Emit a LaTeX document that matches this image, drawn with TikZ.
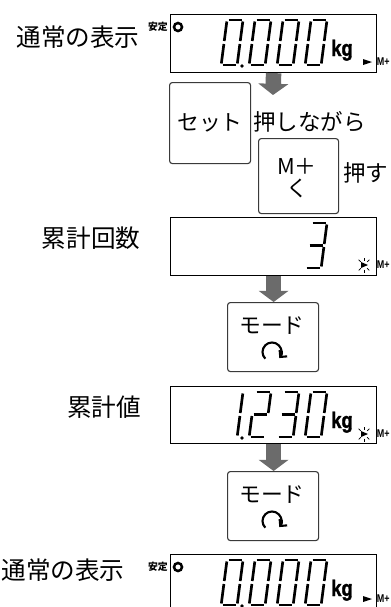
\documentclass[tikz,border=0pt]{standalone}
\usepackage{fontspec}
\newfontfamily\jpfont{Noto Sans CJK JP}
\newfontfamily\lcdfont[FakeStretch=0.8]{Liberation Sans}
\newfontfamily\unitfont[FakeStretch=0.82, FakeBold=1.4]{Liberation Sans Bold}
\usetikzlibrary{calc,arrows.meta}

\definecolor{arrowgray}{HTML}{6B6B6B}
\definecolor{keyedge}{HTML}{3A3A3A}

% 7セグ数字: #1,#2 = 左上, #3 = 点灯するセグメント
\newcommand{\segdigit}[3]{%
  \begin{scope}[shift={(#1,#2)}, xslant=0.13]
    \foreach \s in {#3} {
      \if a\s \draw[seg] (1.5,0) -- (14.5,0); \fi
      \if b\s \draw[seg] (16,1.5) -- (16,21); \fi
      \if c\s \draw[seg] (16,24) -- (16,43.5); \fi
      \if d\s \draw[seg] (1.5,45) -- (14.5,45); \fi
      \if e\s \draw[seg] (0,24) -- (0,43.5); \fi
      \if f\s \draw[seg] (0,1.5) -- (0,21); \fi
      \if g\s \draw[seg] (1.5,22.5) -- (14.5,22.5); \fi
    }
  \end{scope}}

\begin{document}
\begin{tikzpicture}[
    x=0.025cm, y=-0.025cm, % 1 = 1px, 下向き
    lcd/.style={draw, line width=0.8pt, minimum width=5.15cm, minimum height=1.45cm, anchor=north west, inner sep=0pt},
    key/.style={draw=keyedge, line width=0.8pt, rounded corners=2pt, anchor=north west, inner sep=0pt},
    keytext/.style={font=\jpfont\fontsize{15.5}{15.6}\selectfont, inner sep=0pt},
    flow/.style={draw=arrowgray, line width=11pt, -{Triangle[width=21pt,length=8pt]}},
    seg/.style={line width=1.9pt},
    lbl/.style={font=\jpfont\fontsize{17.5}{18}\selectfont, inner sep=0pt},
    txt/.style={font=\jpfont\fontsize{16}{17}\selectfont, inner sep=0pt},
    unit/.style={font=\unitfont\fontsize{16}{16}\selectfont, inner sep=0pt, anchor=base},
    tiny/.style={font=\lcdfont\bfseries\fontsize{8}{8}\selectfont, inner sep=0pt},
    reload/.style={line width=1.5pt, -{Straight Barb[length=3.5pt,width=7pt]}}
]
\useasboundingbox (0,0) rectangle (390,607);
\clip (0,0) rectangle (390,607);

% ========== 表示部 ==========
\node[lcd] (d1) at (170,14) {};
\node[lcd] (d2) at (170,217) {};
\node[lcd, minimum height=1.425cm] (d3) at (170,386) {};
\node[lcd] (d4) at (170,554) {};

\node[lbl] (l1) at (78,37) {通常の表示};
\node[lbl] (l2) at (91,238) {累計回数};
\node[lbl] (l3) at (104,407) {累計値};
\node[lbl] (l4) at (63,570) {通常の表示};

% 0.000 kg (上と下)
\foreach \t/\m in {14/48,554/45} {
    \foreach \k in {0,...,3} {
        \segdigit{227+28*\k}{\t+6}{a,b,c,d,e,f}
    }
    \fill (242,\t+52) circle[radius=1.9];
    \node[unit] (kg\t) at (342,\t+42) {kg};
    \node[font=\jpfont\bfseries\fontsize{7}{7}\selectfont, anchor=east, inner sep=0pt] (st\t) at (168,\t+13) {安定};
    \draw[line width=1.8pt] (178,\t+13) circle[radius=4];
    \fill (363,\t+\m-3) -- (363,\t+\m+3) -- (372,\t+\m) -- cycle;
    \node[tiny, anchor=west] (mp\t) at (376.5,\t+\m) {M+};
}

% 累計回数 3
\segdigit{311}{223}{a,b,c,d,g}

% 累計値 1.230 kg
\segdigit{227}{392}{b,c}
\segdigit{255}{392}{a,b,g,e,d}
\segdigit{283}{392}{a,b,g,c,d}
\segdigit{311}{392}{a,b,c,d,e,f}
\fill (242,438) circle[radius=1.9];
\node[unit] (kg3) at (342,428) {kg};

% 点滅 M+ マーク
\foreach \t in {217,386} {
    \fill (361,\t+45) -- (361,\t+51) -- (368,\t+48) -- cycle;
    \foreach \a in {45,90,135,225,270,315} {
        \draw[line width=0.5pt] ($(364,\t+48)+(\a:4.5)$) -- ($(364,\t+48)+(\a:7.5)$);
    }
    \node[tiny, anchor=west] (mp\t) at (376.5,\t+48) {M+};
}

% ========== キー操作 ==========
\node[key, minimum width=2.025cm, minimum height=2.025cm] (set) at (169,82) {};
\node[keytext] (sett) at (set.center) {セット};
\node[key, minimum width=2cm, minimum height=1.875cm] (mplus) at (258,138) {};
\node[keytext] (mplust) at (297,166) {M＋};
\node[keytext] (mplusk) at (297,188) {く};
\node[txt, anchor=west] (hold) at (253,122) {押しながら};
\node[txt, anchor=west] (push) at (343,173) {押す};

\foreach \n/\t in {1/302,2/471} {
    \node[key, minimum width=2.275cm, minimum height=1.725cm] (mode\n) at (227,\t) {};
    \node[keytext] (modet\n) at (272,\t+24) {モード};
    \draw[reload] (265.3,\t+56.7) arc[start angle=135, end angle=400, radius=9.5]; % 回転矢印
}

% ========== 流れの矢印 ==========
\coordinate (a1end) at (273,95);
\draw[flow] (d1.south) -- (a1end);
\draw[flow] (d2.south) -- (d2.south |- mode1.north);
\draw[flow] (d3.south) -- (d3.south |- mode2.north);

\end{tikzpicture}
\end{document}
